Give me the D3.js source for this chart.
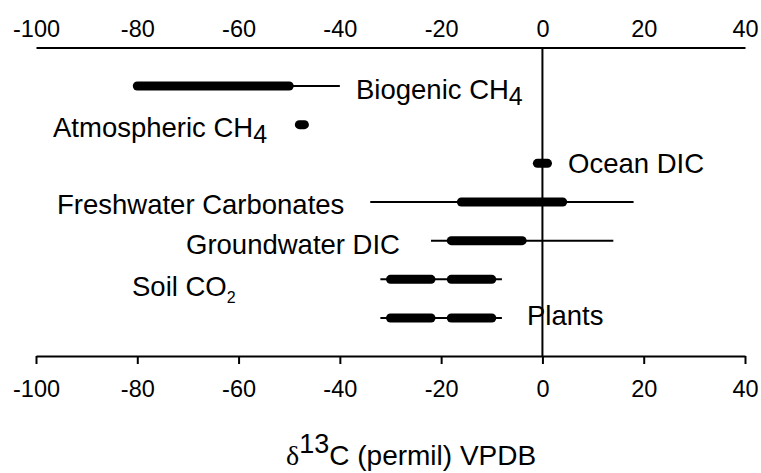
<!DOCTYPE html>
<html lang="en">
<head>
<meta charset="UTF-8">
<title>Carbon isotope ranges</title>
<script src="https://cdn.jsdelivr.net/npm/d3@7.8.5/dist/d3.min.js"></script>
<style>
    body { margin: 0; background: #fff; }
    svg { display: block; font-family: "Liberation Sans", Arial, sans-serif; }
</style>
</head>
<body>
<div id="chart"></div>
<script>
// data
const categories = ["Biogenic CH4", "Atmospheric CH4", "Ocean DIC", "Freshwater Carbonates",
                    "Groundwater DIC", "Soil CO2", "Plants"];
// full (thin) range for each source
const fullRange = [[-80, -40], [-48, -47], [-1, 1], [-34, 18], [-22, 14], [-32, -8], [-32, -8]];
// typical (thick) ranges, one or two per source
const typicalRange = [
    [[-80, -50]],
    [[-48, -47]],
    [[-1, 1]],
    [[-16, 4]],
    [[-18, -4]],
    [[-30, -22], [-18, -10]],
    [[-30, -22], [-18, -10]]
];
const tickValues = [-100, -80, -60, -40, -20, 0, 20, 40];

// label text pieces: [main, subscript]
const labelParts = [["Biogenic CH", "4"], ["Atmospheric CH", "4"], ["Ocean DIC", ""],
                    ["Freshwater Carbonates", ""], ["Groundwater DIC", ""], ["Soil CO", "2"], ["Plants", ""]];
// label placement: left x in px, baseline offset from row
const labelLayout = [
    {x: 356, dy: 13, sub: "big"},
    {x: 53,  dy: 12, sub: "big"},
    {x: 568, dy: 10},
    {x: 57,  dy: 12},
    {x: 186, dy: 13},
    {x: 132, dy: 17, sub: "small"},
    {x: 527, dy: 7}
];

const W = 761, H = 473;
const svg = d3.select("#chart").append("svg")
    .attr("width", W).attr("height", H);

const x = d3.scaleLinear().domain([-100, 40]).range([36, 745]);
const y = d3.scalePoint().domain(categories).range([86, 318]);

const topY = 47.5, bottomY = 356;

// top axis (no ticks)
const topAxis = svg.append("g")
    .attr("transform", `translate(0,${topY})`)
    .call(d3.axisTop(x).tickValues(tickValues).tickSize(0).tickPadding(11).tickFormat(d => String(d)));
topAxis.select(".domain").attr("stroke-width", 2);
topAxis.selectAll("text").style("font-size", "23.5px").attr("fill", "#000");

// bottom axis
const bottomAxis = svg.append("g")
    .attr("transform", `translate(0,${bottomY})`)
    .call(d3.axisBottom(x).tickValues(tickValues).tickSize(8).tickSizeOuter(0).tickFormat(d => String(d)));
bottomAxis.select(".domain").attr("stroke-width", 2);
bottomAxis.selectAll(".tick line").attr("stroke-width", 2);
bottomAxis.selectAll("text").style("font-size", "23.5px").attr("fill", "#000")
    .attr("dy", null).attr("y", 41);

// zero line
svg.append("line")
    .attr("x1", x(0)).attr("x2", x(0))
    .attr("y1", topY).attr("y2", bottomY)
    .attr("stroke", "#000").attr("stroke-width", 2);

// thin full ranges
svg.selectAll(".full")
    .data(categories)
    .enter().append("line")
    .attr("class", "full")
    .attr("x1", (d, i) => x(fullRange[i][0]))
    .attr("x2", (d, i) => x(fullRange[i][1]))
    .attr("y1", d => y(d)).attr("y2", d => y(d))
    .attr("stroke", "#000").attr("stroke-width", 2);

// thick typical ranges
categories.forEach((c, i) => {
    svg.selectAll(null)
        .data(typicalRange[i])
        .enter().append("line")
        .attr("x1", r => x(r[0]))
        .attr("x2", r => x(r[1]))
        .attr("y1", y(c)).attr("y2", y(c))
        .attr("stroke", "#000").attr("stroke-width", 9)
        .attr("stroke-linecap", "round");
});

// labels
categories.forEach((c, i) => {
    const lay = labelLayout[i];
    const t = svg.append("text")
        .attr("x", lay.x)
        .attr("y", y(c) + lay.dy)
        .style("font-size", "27.5px")
        .attr("fill", "#000");
    t.append("tspan").text(labelParts[i][0]);
    if (labelParts[i][1]) {
        const small = lay.sub === "small";
        t.append("tspan")
            .attr("dy", small ? 7 : 6)
            .style("font-size", small ? "16px" : "25px")
            .text(labelParts[i][1]);
    }
});

// axis title
const title = svg.append("text")
    .attr("x", 286)
    .attr("y", 465)
    .style("font-size", "28px")
    .attr("fill", "#000");
title.append("tspan").style("font-family", "'Liberation Serif', 'Times New Roman', serif").text("δ");
title.append("tspan").attr("dy", -12).style("font-size", "27px").text("13");
title.append("tspan").attr("dy", 12).text("C (permil) VPDB");
</script>
</body>
</html>
